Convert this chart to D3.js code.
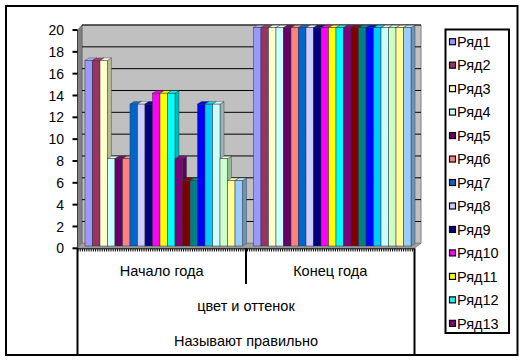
<!DOCTYPE html>
<html>
<head>
<meta charset="utf-8">
<script src="https://cdn.jsdelivr.net/npm/d3@7"></script>
<style>
  body { margin: 0; background: #fff; }
  text { font-family: "Liberation Sans", Arial, sans-serif; fill: #000; }
</style>
</head>
<body>
<div id="chart"></div>
<script>
// categories and grouping labels
var categories = ["Начало года", "Конец года"];
var groupLabels = ["цвет и оттенок", "Называют правильно"];

// series names (only the first 13 fit into the legend)
var series = ["Ряд1", "Ряд2", "Ряд3", "Ряд4", "Ряд5", "Ряд6", "Ряд7",
    "Ряд8", "Ряд9", "Ряд10", "Ряд11", "Ряд12", "Ряд13", "Ряд14",
    "Ряд15", "Ряд16", "Ряд17", "Ряд18", "Ряд19", "Ряд20", "Ряд21"];
var legendCount = 13;

// values for each series, per category
var startValues = [17, 17, 17, 8, 8, 8, 13, 13, 13, 14, 14, 14, 8, 6, 6, 13, 13, 13, 8, 6, 6];
var endValues   = [20, 20, 20, 20, 20, 20, 20, 20, 20, 20, 20, 20, 20, 20, 20, 20, 20, 20, 20, 20, 20];

var yTicks = [0, 2, 4, 6, 8, 10, 12, 14, 16, 18, 20];

// old excel palette
var colors = ["#9999FF", "#993366", "#FFFFCC", "#CCFFFF", "#660066", "#FF8080",
    "#0066CC", "#CCCCFF", "#000080", "#FF00FF", "#FFFF00", "#00FFFF", "#800080",
    "#800000", "#008080", "#0000FF", "#00CCFF", "#CCFFFF", "#CCFFCC", "#FFFF99", "#99CCFF"];

var width = 521,
    height = 360,
    wallDx = 4.5, wallDy = -5,
    barDx = 4, barDy = -2.5,
    barShiftX = 2, barShiftY = -2.3;

var svg = d3.select('#chart')
    .append('svg')
    .attr('width', width)
    .attr('height', height);

var x = d3.scaleBand()
    .domain(categories)
    .range([77.5, 414.5])
    .paddingInner(0.065)
    .paddingOuter(0.0325);

var xs = d3.scaleBand()
    .domain(series)
    .range([0, x.bandwidth()]);

var y = d3.scaleLinear()
    .domain([0, 20])
    .range([248.3, 30]);

var color = d3.scaleOrdinal().domain(series).range(colors);

var table = [];
categories.forEach(function (c, ci) {
    var vals = ci === 0 ? startValues : endValues;
    series.forEach(function (s, si) {
        table.push({cat: c, name: s, value: vals[si]});
    });
});

// outer frame
svg.append('rect')
    .attr('x', 6).attr('y', 6)
    .attr('width', 511.5).attr('height', 349)
    .attr('fill', 'none')
    .attr('stroke', '#000')
    .attr('stroke-width', 2);

var x0 = x.range()[0], x1 = x.range()[1];
var y0 = y(0), y20 = y(20);

function poly(pts) {
    return 'M' + pts.map(function (p) { return p[0] + ',' + p[1]; }).join('L') + 'Z';
}

// walls and floor
var walls = svg.append('g');
walls.append('path')
    .attr('d', poly([[x0 + wallDx, y20 + wallDy], [x1 + wallDx + 2, y20 + wallDy],
        [x1 + wallDx + 2, y0 + wallDy], [x0 + wallDx, y0 + wallDy]]))
    .attr('fill', '#C0C0C0')
    .attr('stroke', '#808080');
walls.append('path')
    .attr('d', poly([[x0, y0], [x0, y20], [x0 + wallDx, y20 + wallDy], [x0 + wallDx, y0 + wallDy]]))
    .attr('fill', '#808080')
    .attr('stroke', '#606060')
    .attr('stroke-width', 0.6);
walls.append('path')
    .attr('d', poly([[x0, y0], [x1, y0], [x1 + wallDx + 2, y0 + wallDy], [x0 + wallDx, y0 + wallDy]]))
    .attr('fill', '#A0A0A0')
    .attr('stroke', '#707070')
    .attr('stroke-width', 0.6);

walls.selectAll('line.grid')
    .data(yTicks.slice(1))
    .enter()
    .append('line')
    .attr('class', 'grid')
    .attr('x1', x0 + wallDx)
    .attr('x2', x1 + wallDx + 2)
    .attr('y1', function (d) { return y(d) + wallDy; })
    .attr('y2', function (d) { return y(d) + wallDy; })
    .attr('stroke', '#000')
    .attr('stroke-width', 1);

// y axis
var axis = svg.append('g');
axis.append('line')
    .attr('x1', x0).attr('x2', x0)
    .attr('y1', y20).attr('y2', y0)
    .attr('stroke', '#404040');
axis.selectAll('line.tick')
    .data(yTicks)
    .enter()
    .append('line')
    .attr('class', 'tick')
    .attr('x1', x0 - 5).attr('x2', x0)
    .attr('y1', function (d) { return y(d); })
    .attr('y2', function (d) { return y(d); })
    .attr('stroke', '#000')
    .attr('stroke-width', 2);
axis.selectAll('text')
    .data(yTicks)
    .enter()
    .append('text')
    .attr('x', 64)
    .attr('y', function (d) { return y(d); })
    .attr('dy', '0.36em')
    .attr('text-anchor', 'end')
    .style('font-size', '14px')
    .text(function (d) { return d; });

// bars, left to right so right faces are overlapped correctly
var bars = svg.append('g')
    .selectAll('g')
    .data(table)
    .enter()
    .append('g');

function bx(d) { return x(d.cat) + xs(d.name) + barShiftX; }
function by(d) { return y(d.value) + barShiftY; }
var bw = xs.bandwidth(), baseY = y0 + barShiftY;

bars.append('path')
    .attr('d', function (d) {
        var l = bx(d), r = l + bw, t = by(d);
        return poly([[r, t], [r + barDx, t + barDy], [r + barDx, baseY + barDy], [r, baseY]]);
    })
    .attr('fill', function (d) { return d3.color(color(d.name)).darker(0.9); })
    .attr('stroke', '#333')
    .attr('stroke-width', 0.4);
bars.append('path')
    .attr('d', function (d) {
        var l = bx(d), r = l + bw, t = by(d);
        return poly([[l, t], [l + barDx, t + barDy], [r + barDx, t + barDy], [r, t]]);
    })
    .attr('fill', function (d) { return d3.color(color(d.name)).brighter(0.4); })
    .attr('stroke', '#333')
    .attr('stroke-width', 0.4);
bars.append('rect')
    .attr('x', bx)
    .attr('y', by)
    .attr('width', bw)
    .attr('height', function (d) { return baseY - by(d); })
    .attr('fill', function (d) { return color(d.name); })
    .attr('stroke', '#333')
    .attr('stroke-width', 0.5);

// category axis
var cax = svg.append('g');
cax.append('line')
    .attr('x1', x0).attr('x2', x1)
    .attr('y1', y0 + 0.5).attr('y2', y0 + 0.5)
    .attr('stroke', '#000');
cax.append('line')
    .attr('x1', x0).attr('x2', x1)
    .attr('y1', y0 + 2).attr('y2', y0 + 2)
    .attr('stroke', '#000')
    .attr('stroke-width', 2.5)
    .attr('stroke-dasharray', '1,1.2');
cax.selectAll('line.div')
    .data([x0, x(categories[1]) - x.step() * x.paddingInner() / 2, x1])
    .enter()
    .append('line')
    .attr('class', 'div')
    .attr('x1', function (d) { return d; })
    .attr('x2', function (d) { return d; })
    .attr('y1', y0)
    .attr('y2', function (d, i) { return i === 1 ? 284 : 355; })
    .attr('stroke', '#000')
    .attr('stroke-width', 2);
cax.selectAll('text.cat')
    .data(categories)
    .enter()
    .append('text')
    .attr('class', 'cat')
    .attr('x', function (d) { return x(d) - x.step() * x.paddingInner() / 2 + x.step() / 2; })
    .attr('y', 276)
    .attr('text-anchor', 'middle')
    .style('font-size', '14.5px')
    .text(function (d) { return d; });
cax.selectAll('text.grp')
    .data(groupLabels)
    .enter()
    .append('text')
    .attr('class', 'grp')
    .attr('x', (x0 + x1) / 2)
    .attr('y', function (d, i) { return i === 0 ? 311 : 346; })
    .attr('text-anchor', 'middle')
    .style('font-size', '14.5px')
    .text(function (d) { return d; });

// legend
var legend = svg.append('g');
legend.append('rect')
    .attr('x', 445.5).attr('y', 29.5)
    .attr('width', 63.5).attr('height', 303.5)
    .attr('fill', '#fff')
    .attr('stroke', '#000')
    .attr('stroke-width', 2);
var item = legend.selectAll('g')
    .data(series.slice(0, legendCount))
    .enter()
    .append('g')
    .attr('transform', function (d, i) { return 'translate(0,' + (41.7 + i * 23.47) + ')'; });
item.append('rect')
    .attr('x', 449.5).attr('y', -3)
    .attr('width', 6).attr('height', 6)
    .attr('fill', function (d) { return color(d); })
    .attr('stroke', '#000')
    .attr('stroke-width', 1.2);
item.append('text')
    .attr('x', 457)
    .attr('dy', '0.36em')
    .style('font-size', '14.5px')
    .text(function (d) { return d; });
</script>
</body>
</html>
